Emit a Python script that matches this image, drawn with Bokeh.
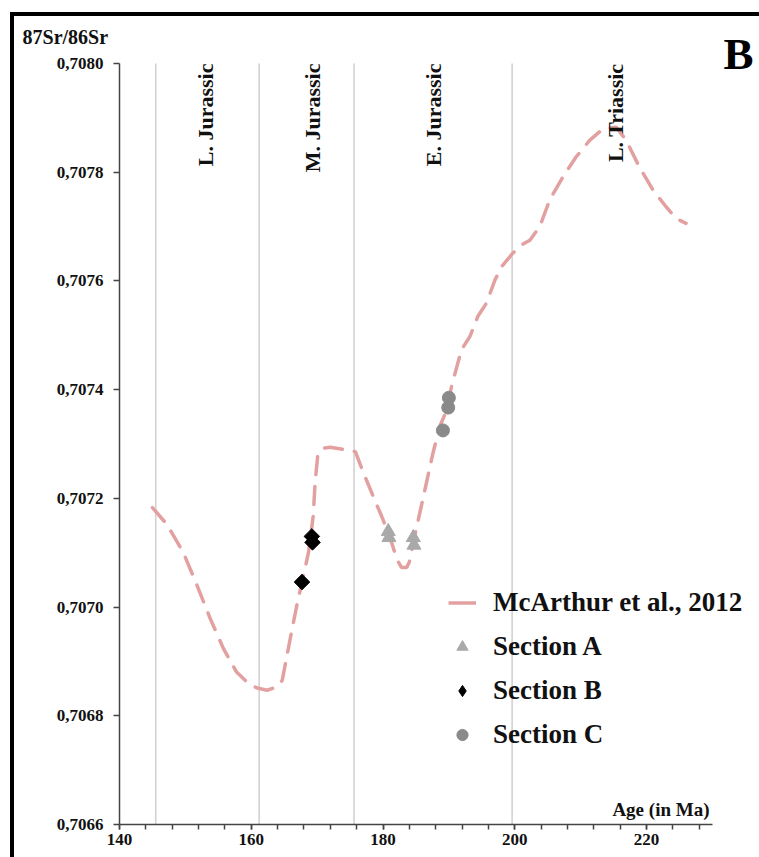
from math import pi
from bokeh.plotting import figure
from bokeh.models import (Label, Legend, LegendItem, FixedTicker,
                          CustomJSTickFormatter, Range1d)
from bokeh.core.properties import value
from bokeh.embed import file_html
from bokeh.resources import INLINE

# ---------------- data ----------------
curve_age = [145.0, 147.2, 149.7, 151.8, 153.8, 155.8, 157.8, 159.6, 160.9, 162.4,
             163.9, 164.7, 165.9, 166.9, 167.9, 168.7, 169.4, 169.7, 170.1, 170.8,
             172.0, 174.0, 175.8, 177.0, 178.5, 180.0, 181.3, 182.1, 182.8, 183.6,
             184.0, 184.6, 185.6, 186.6, 187.6, 188.6, 189.7, 190.4, 191.9, 193.2,
             194.4, 195.7, 197.0, 198.0, 199.7, 201.0, 202.3, 203.8, 205.3, 207.3,
             209.3, 211.4, 213.4, 215.4, 216.9, 218.9, 221.0, 223.0, 224.5, 226.0]
curve_sr = [0.707183, 0.707152, 0.707100, 0.707039, 0.706978, 0.706923, 0.706880, 0.706859, 0.706851, 0.706847,
            0.706853, 0.706865, 0.706941, 0.707002, 0.707057, 0.707101, 0.707167, 0.707230, 0.707280, 0.707292,
            0.707294, 0.707290, 0.707286, 0.707248, 0.707204, 0.707161, 0.707119, 0.707088, 0.707073, 0.707073,
            0.707083, 0.707119, 0.707174, 0.707229, 0.707284, 0.707332, 0.707363, 0.707406, 0.707473, 0.707498,
            0.707535, 0.707559, 0.707602, 0.707626, 0.707651, 0.707666, 0.707675, 0.707700, 0.707749, 0.707791,
            0.707828, 0.707859, 0.707880, 0.707883, 0.707859, 0.707810, 0.707767, 0.707736, 0.707715, 0.707706]

secA_age = [180.8, 180.9, 184.6, 184.7]
secA_sr = [0.707139, 0.707128, 0.707128, 0.707114]
secB_age = [169.2, 169.3, 167.7]
secB_sr = [0.707130, 0.707119, 0.707046]
secC_age = [190.0, 189.9, 189.1]
secC_sr = [0.707385, 0.707367, 0.707325]

boundaries = [145.5, 161.2, 175.6, 199.6]
period_names = ["L. Jurassic", "M. Jurassic", "E. Jurassic", "L. Triassic"]
period_pos = [153.0, 169.3, 187.7, 215.3]

x_min, x_max = 140, 230
y_min, y_max = 0.7066, 0.7080
x_ticks = [140, 160, 180, 200, 220]
x_minor = [140 + 4 * i for i in range(23)]
y_ticks = [0.7066, 0.7068, 0.7070, 0.7072, 0.7074, 0.7076, 0.7078, 0.7080]

FONT = "Liberation Serif"
TXT = "#111111"

# view window (frame == whole canvas; axes drawn at fixed locations)
p = figure(width=749, height=845, output_backend="svg", toolbar_location=None,
           title=None,
           x_range=Range1d(124.06, 237.76), y_range=Range1d(0.7065319, 0.7080865),
           min_border_left=0, min_border_top=0, min_border_right=0,
           min_border_bottom=0,
           styles={"margin-left": "10px", "margin-top": "12px",
                   "border-left": "4px solid black", "border-top": "4px solid black"})
p.outline_line_color = None
p.xgrid.visible = False
p.ygrid.visible = False
p.background_fill_color = "white"

# period boundaries
p.segment(x0=boundaries, y0=[y_min] * len(boundaries), x1=boundaries,
          y1=[y_max] * len(boundaries), line_color="#d2d2d2", line_width=1.6)

# curve
line_color = "#e3a0a0"
p.line(curve_age, curve_sr, line_color=line_color, line_width=3.5, line_dash="18 12",
       line_cap="round")
legend_line = p.line(curve_age, curve_sr, line_color=line_color, line_width=3.5,
                     visible=False)

rA = p.scatter(secA_age, secA_sr, marker="triangle", size=14, fill_color="#a9a9a9",
               line_color="#a9a9a9")
p.scatter(secB_age, secB_sr, marker="square", angle=pi / 4, size=11,
          fill_color="black", line_color="black")
rB_leg = p.scatter(secB_age, secB_sr, marker="diamond", size=15,
                   fill_color="black", line_color="black", visible=False)
rC = p.scatter(secC_age, secC_sr, marker="circle", size=13, fill_color="#8a8a8a",
               line_color="#8a8a8a")

# period names
p.text(x=period_pos, y=[y_max] * len(period_pos), text=period_names, angle=pi / 2,
       text_align="right", text_baseline="middle", text_font=value(FONT),
       text_font_style="bold", text_font_size="22px", text_color=TXT)

# axes
for ax in (p.xaxis[0], p.yaxis[0]):
    ax.axis_line_color = "#444444"
    ax.axis_line_width = 1.5
    ax.major_tick_line_color = "#444444"
    ax.minor_tick_line_color = "#444444"
    ax.major_tick_line_width = 1.5
    ax.minor_tick_line_width = 1.5
    ax.major_label_text_font = FONT
    ax.major_label_text_font_style = "bold"
    ax.major_label_text_font_size = "17px"
    ax.major_label_text_color = TXT
    ax.major_tick_in = 0

p.xaxis.fixed_location = y_min
p.xaxis.bounds = (x_min, x_max)
p.xaxis.ticker = FixedTicker(ticks=x_ticks, minor_ticks=x_minor)
p.xaxis.major_tick_out = 5
p.xaxis.minor_tick_out = 5
p.xaxis.minor_tick_in = 0
p.xaxis.major_label_standoff = 5

p.yaxis.fixed_location = x_min
p.yaxis.bounds = (y_min, y_max)
p.yaxis.ticker = FixedTicker(ticks=y_ticks, minor_ticks=[])
p.yaxis.major_tick_out = 6
p.yaxis.major_label_standoff = 10
p.yaxis.formatter = CustomJSTickFormatter(code="return tick.toFixed(4).replace('.', ',');")

# titles / labels
p.add_layout(Label(x=125.28, y=0.7080479, text="87Sr/86Sr", text_font=FONT,
                   text_font_style="bold", text_font_size="20px", text_color=TXT,
                   text_baseline="middle"))
p.add_layout(Label(x=229.56, y=0.7066275, text="Age (in Ma)", text_font=FONT,
                   text_font_style="bold", text_font_size="19px", text_color=TXT,
                   text_align="right", text_baseline="middle"))
p.add_layout(Label(x=231.69, y=0.7080166, text="B", text_font=FONT,
                   text_font_style="bold", text_font_size="45px", text_color="black",
                   text_baseline="middle"))

legend = Legend(items=[
    LegendItem(label="McArthur et al., 2012", renderers=[legend_line]),
    LegendItem(label="Section A", renderers=[rA]),
    LegendItem(label="Section B", renderers=[rB_leg]),
    LegendItem(label="Section C", renderers=[rC]),
], location=(434, 111), margin=0, padding=0, spacing=13,
    glyph_width=28, glyph_height=31, label_height=31, label_standoff=17,
    label_text_font=FONT, label_text_font_style="bold", label_text_font_size="27px",
    label_text_color=TXT, border_line_color=None, background_fill_alpha=0,
    inactive_fill_alpha=0)
p.add_layout(legend)

open("out.html", "w").write(file_html(p, INLINE))
